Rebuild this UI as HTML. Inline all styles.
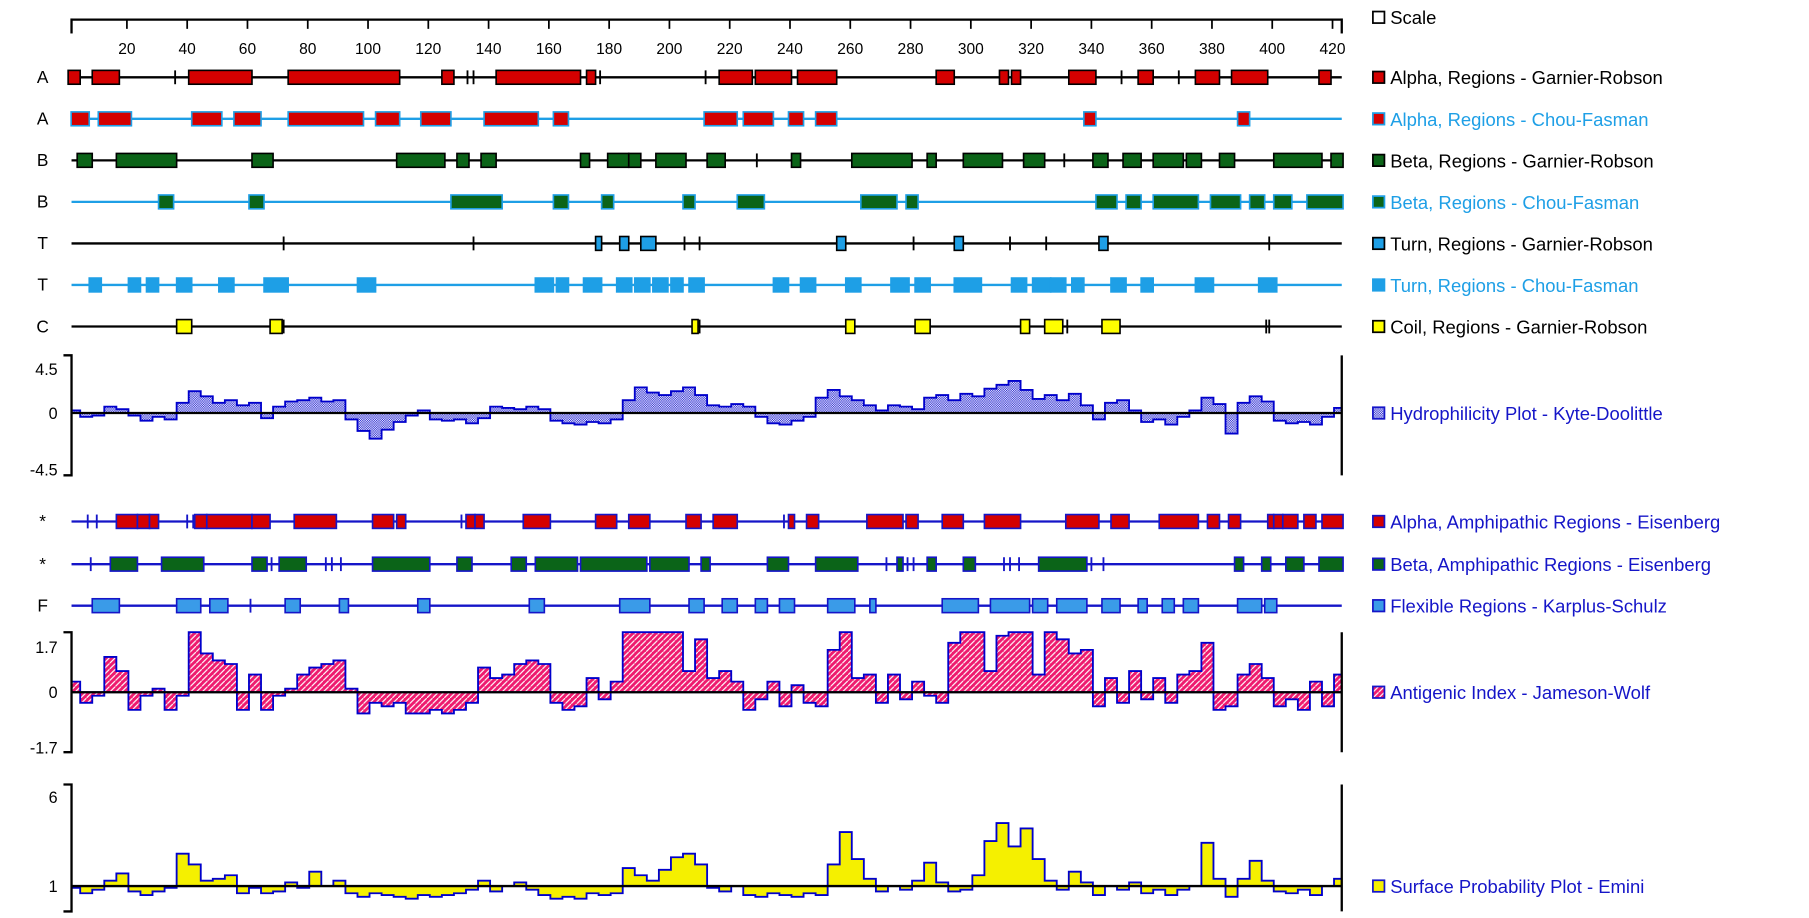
<!DOCTYPE html>
<html><head><meta charset="utf-8"><title>Protein plot</title>
<style>
html,body{margin:0;padding:0;background:#fff;}
svg{display:block;font-family:"Liberation Sans",Arial,sans-serif;}
</style></head>
<body>
<svg id="chart" width="1809" height="918" viewBox="0 0 1568 795.7" preserveAspectRatio="none" xmlns="http://www.w3.org/2000/svg">
<defs>
<pattern id="chk" patternUnits="userSpaceOnUse" width="2" height="2"><rect width="2" height="2" fill="#fff"/><rect width="1" height="1" fill="#2020d0"/><rect x="1" y="1" width="1" height="1" fill="#2020d0"/></pattern>
<pattern id="hatch" patternUnits="userSpaceOnUse" width="5" height="5"><rect width="5" height="5" fill="#ee1a6e"/><path d="M-1,6 L6,-1" stroke="#fff" stroke-width="1"/></pattern>
<clipPath id="plotclip"><rect x="62" y="0" width="1101" height="800"/></clipPath>
</defs>
<g id="g"></g>
</svg>
<script>
// ---- data (residue ranges) ----
const alphaGR=[[1,4],[9,17],[36,36],[41,61],[74,110],[125,128],[133,133],[135,135],[143,170],[173,175],[177,177],[212,212],[217,227],[229,240],[243,255],[289,294],[310,312],[314,316],[333,341],[350,350],[356,360],[369,369],[375,382],[387,398],[416,419]];
const alphaCF=[[2,7],[11,21],[42,51],[56,64],[74,98],[103,110],[118,127],[139,156],[162,166],[212,222],[225,234],[240,244],[249,255],[338,341],[389,392]];
const betaGR=[[4,8],[17,36],[62,68],[110,125],[130,133],[138,142],[171,173],[180,186],[187,190],[196,205],[213,218],[229,229],[241,243],[261,280],[286,288],[298,310],[318,324],[331,331],[341,345],[351,356],[361,370],[372,376],[383,387],[401,416],[420,423]];
const betaCF=[[31,35],[61,65],[128,144],[162,166],[178,181],[205,208],[223,231],[264,275],[279,282],[342,348],[352,356],[361,375],[380,389],[393,397],[401,406],[412,423]];
const turnGR=[[72,72],[135,135],[176,177],[184,186],[191,195],[205,205],[210,210],[256,258],[281,281],[295,297],[313,313],[325,325],[343,345],[399,399]];
const turnCF=[[8,11],[21,24],[27,30],[37,41],[51,55],[66,73],[97,102],[156,161],[163,166],[172,177],[183,187],[189,193],[195,199],[201,204],[207,211],[235,239],[244,248],[259,263],[274,279],[282,286],[295,303],[314,318],[321,326],[327,331],[334,337],[347,351],[357,360],[375,380],[396,401]];
const coilGR=[[37,41],[68,71],[72,72],[208,209],[210,210],[259,261],[282,286],[317,319],[325,330],[332,332],[344,349],[398,398],[399,399]];
const alphaEis=[[7,7],[10,10],[17,23],[24,27],[28,30],[40,40],[42,42],[43,46],[47,61],[62,67],[76,89],[102,108],[110,112],[131,131],[133,135],[136,138],[152,160],[176,182],[187,193],[206,210],[215,222],[238,238],[240,241],[246,249],[266,277],[279,282],[291,297],[305,316],[332,342],[347,352],[363,375],[379,382],[386,389],[399,400],[401,403],[404,408],[411,414],[417,423]];
const betaEis=[[8,8],[15,23],[32,45],[62,66],[68,68],[71,79],[86,86],[88,88],[91,91],[102,120],[130,134],[148,152],[156,169],[171,192],[194,206],[211,213],[233,239],[249,262],[272,272],[276,277],[279,279],[281,281],[286,288],[298,301],[311,311],[313,313],[316,316],[323,338],[340,340],[344,344],[388,390],[397,399],[405,410],[416,423]];
const flexKS=[[9,17],[37,44],[48,53],[61,61],[73,77],[91,93],[117,120],[154,158],[184,193],[207,211],[218,222],[229,232],[237,241],[253,261],[267,268],[291,302],[307,319],[321,325],[329,338],[344,349],[356,358],[364,367],[371,375],[389,396],[398,401]];
// per 4-residue windows starting at residue 1
const hydro=[0.2,-0.3,-0.2,0.5,0.3,-0.2,-0.6,-0.3,-0.5,0.8,1.7,1.3,0.8,1.0,0.6,0.8,-0.4,0.5,0.9,1.0,1.2,0.9,1.0,-0.5,-1.4,-2.0,-1.3,-0.7,-0.2,0.2,-0.5,-0.6,-0.5,-0.8,-0.4,0.5,0.4,0.3,0.5,0.3,-0.6,-0.8,-0.9,-0.7,-0.8,-0.5,1.0,2.0,1.6,1.4,1.7,2.0,1.4,0.6,0.5,0.7,0.5,-0.3,-0.8,-0.9,-0.6,-0.3,1.2,1.8,1.3,1.0,0.6,0.2,0.6,0.5,0.3,1.2,1.4,1.0,1.5,1.3,1.9,2.2,2.5,1.8,1.1,1.4,1.0,1.5,0.6,-0.5,0.8,1.0,0.2,-0.7,-0.5,-0.9,-0.3,0.2,1.2,0.7,-1.6,0.8,1.3,0.9,-0.6,-0.8,-0.7,-0.9,-0.3,0.4];
const antigenic=[0.3,-0.3,-0.1,1.0,0.6,-0.5,-0.1,0.1,-0.5,-0.1,1.7,1.1,0.9,0.8,-0.5,0.5,-0.5,-0.1,0.1,0.5,0.7,0.8,0.9,0.1,-0.6,-0.3,-0.4,-0.3,-0.6,-0.6,-0.5,-0.6,-0.5,-0.3,0.7,0.4,0.5,0.8,0.9,0.8,-0.3,-0.5,-0.4,0.4,-0.2,0.3,1.7,1.7,1.7,1.7,1.7,0.6,1.5,0.4,0.6,0.3,-0.5,-0.2,0.3,-0.4,0.2,-0.3,-0.4,1.2,1.7,0.4,0.5,-0.3,0.5,-0.2,0.3,-0.1,-0.3,1.4,1.7,1.7,0.6,1.6,1.7,1.7,0.5,1.7,1.5,1.1,1.2,-0.4,0.4,-0.3,0.6,-0.2,0.4,-0.3,0.5,0.6,1.4,-0.5,-0.4,0.5,0.8,0.4,-0.4,-0.2,-0.5,0.3,-0.4,0.5];
const emini=[0.9,0.6,0.8,1.3,1.7,0.7,0.5,0.7,0.9,2.8,2.2,1.3,1.4,1.6,0.6,0.9,0.6,0.7,1.2,0.9,1.8,1.0,1.3,0.6,0.4,0.6,0.5,0.4,0.3,0.5,0.4,0.5,0.6,0.8,1.3,0.7,1.0,1.2,0.8,0.5,0.3,0.4,0.3,0.6,0.5,0.6,2.0,1.6,1.3,1.9,2.6,2.8,2.2,0.9,0.7,1.0,0.5,0.4,0.6,0.5,0.4,0.6,0.5,2.2,4.0,2.5,1.4,0.7,1.0,0.8,1.3,2.3,1.2,0.7,0.8,1.6,3.5,4.5,3.2,4.2,2.5,1.3,0.8,1.8,1.2,0.5,1.0,0.8,1.2,0.6,0.8,0.5,0.8,1.0,3.4,1.4,0.4,1.4,2.4,1.3,0.7,0.6,0.8,0.5,1.0,1.4];
const scaleTicks=[20,40,60,80,100,120,140,160,180,200,220,240,260,280,300,320,340,360,380,400,420];

const NS="http://www.w3.org/2000/svg";
const G=document.getElementById('g');
const X0=62, X1=1163;
function xr(r){return 57.75+2.6125*r;}
function mk(tag,attrs,parent){const e=document.createElementNS(NS,tag);for(const k in attrs)e.setAttribute(k,attrs[k]);(parent||G).appendChild(e);return e;}

// scale axis
const ax=mk('g',{});


mk('line',{x1:X0,y1:17,x2:X1,y2:17,stroke:'#000','stroke-width':2},ax);
mk('line',{x1:X0,y1:16,x2:X0,y2:29,stroke:'#000','stroke-width':2},ax);
mk('line',{x1:X1,y1:16,x2:X1,y2:29,stroke:'#000','stroke-width':2},ax);
scaleTicks.forEach(v=>{
  const t=mk('line',{x1:xr(v),y1:17,x2:xr(v),y2:25,stroke:'#000','stroke-width':1.5},ax);
  
  
  const l=mk('text',{x:xr(v),y:47,'font-size':13.5,'text-anchor':'middle',fill:'#000'},ax);
  l.textContent=v;
  
  
});

function segRow(name,y,label,lineCol,fill,stroke,segs){
  const g=mk('g',{});
  
  
  const t=mk('text',{x:37,y:y+5,'font-size':15,'text-anchor':'middle',fill:'#000'},g);
  t.textContent=label;
  mk('line',{x1:X0,y1:y,x2:X1,y2:y,stroke:lineCol,'stroke-width':2},g);
  segs.forEach(s=>{
    if(s[0]===s[1]){
      const e=mk('line',{x1:xr(s[0]),y1:y-6,x2:xr(s[0]),y2:y+6,stroke:stroke,'stroke-width':1.6},g);
      
      
    }else{
      const a=xr(s[0]-0.5),b=xr(s[1]+0.5);
      const e=mk('rect',{x:a,y:y-6,width:b-a,height:12,fill:fill,stroke:stroke,'stroke-width':1.4},g);
      
      
    }
  });
}
const CY='#1e9fe6', BL='#1515c8';
segRow('alpha-garnier-row',67,'A','#000','#d40000','#000',alphaGR);
segRow('alpha-chou-row',103,'A',CY,'#d40000',CY,alphaCF);
segRow('beta-garnier-row',139,'B','#000','#0b6418','#000',betaGR);
segRow('beta-chou-row',175,'B',CY,'#0b6418',CY,betaCF);
segRow('turn-garnier-row',211,'T','#000',CY,'#000',turnGR);
segRow('turn-chou-row',247,'T',CY,CY,CY,turnCF);
segRow('coil-garnier-row',283,'C','#000','#ffff00','#000',coilGR);
segRow('alpha-eisenberg-row',452,'*',BL,'#d40000',BL,alphaEis);
segRow('beta-eisenberg-row',489,'*',BL,'#0b6418',BL,betaEis);
segRow('flexible-karplus-row',525,'F',BL,'#3a9be8',BL,flexKS);

function plot(name,vals,y0,unit,base,top,bot,labels,fill){
  const g=mk('g',{});
  
  
  const yv=v=>y0-(v-base)*unit;
  let d='M'+xr(0.5)+','+y0;
  vals.forEach((v,i)=>{const r=1+4*i;d+=' L'+xr(r-0.5)+','+yv(v)+' L'+xr(r+3.5)+','+yv(v);});
  d+=' L'+xr(vals.length*4+0.5)+','+y0+' Z';
  const area=mk('path',{d:d,fill:fill,stroke:'#0000cc','stroke-width':1.6,'stroke-linejoin':'miter','clip-path':'url(#plotclip)'},g);
  
  
  mk('line',{x1:X0,y1:y0,x2:X1,y2:y0,stroke:'#000','stroke-width':2},g);
  mk('path',{d:`M55,${top} H${X0} V${bot} H55`,fill:'none',stroke:'#000','stroke-width':2},g);
  mk('line',{x1:X1,y1:top,x2:X1,y2:bot,stroke:'#000','stroke-width':2},g);
  labels.forEach(l=>{
    const t=mk('text',{x:50,y:l[1]+5,'font-size':14,'text-anchor':'end',fill:'#000'},g);
    t.textContent=l[0];
    
    
  });
}
plot('hydrophilicity-plot',hydro,358,50/4.5,0,308,412,[['4.5',320],['0',358],['-4.5',407]],'url(#chk)');
plot('antigenic-plot',antigenic,600,52/1.7,0,548,652,[['1.7',561],['0',600],['-1.7',648]],'url(#hatch)');
plot('emini-plot',emini,768,15.6,1,680,790,[['6',691],['1',768]],'#f5f000');

// legend
const legend=[
 ['Scale',15,'#fff','#000','#000'],
 ['Alpha, Regions - Garnier-Robson',67,'#d40000','#000','#000'],
 ['Alpha, Regions - Chou-Fasman',103,'#d40000',CY,CY],
 ['Beta, Regions - Garnier-Robson',139,'#0b6418','#000','#000'],
 ['Beta, Regions - Chou-Fasman',175,'#0b6418',CY,CY],
 ['Turn, Regions - Garnier-Robson',211,CY,'#000','#000'],
 ['Turn, Regions - Chou-Fasman',247,CY,CY,CY],
 ['Coil, Regions - Garnier-Robson',283,'#ffff00','#000','#000'],
 ['Hydrophilicity Plot - Kyte-Doolittle',358,'url(#chk)',BL,BL],
 ['Alpha, Amphipathic Regions - Eisenberg',452,'#d40000',BL,BL],
 ['Beta, Amphipathic Regions - Eisenberg',489,'#0b6418',BL,BL],
 ['Flexible Regions - Karplus-Schulz',525,'#3a9be8',BL,BL],
 ['Antigenic Index - Jameson-Wolf',600,'url(#hatch)',BL,BL],
 ['Surface Probability Plot - Emini',768,'#f5f000',BL,BL]
];
legend.forEach(e=>{
  const g=mk('g',{});
  
  
  mk('rect',{x:1190,y:e[1]-5,width:10,height:10,fill:e[2],stroke:e[3],'stroke-width':1.5},g);
  const t=mk('text',{x:1205,y:e[1]+6,'font-size':16,fill:e[4]},g);
  t.textContent=e[0];
});
</script>
</body></html>
